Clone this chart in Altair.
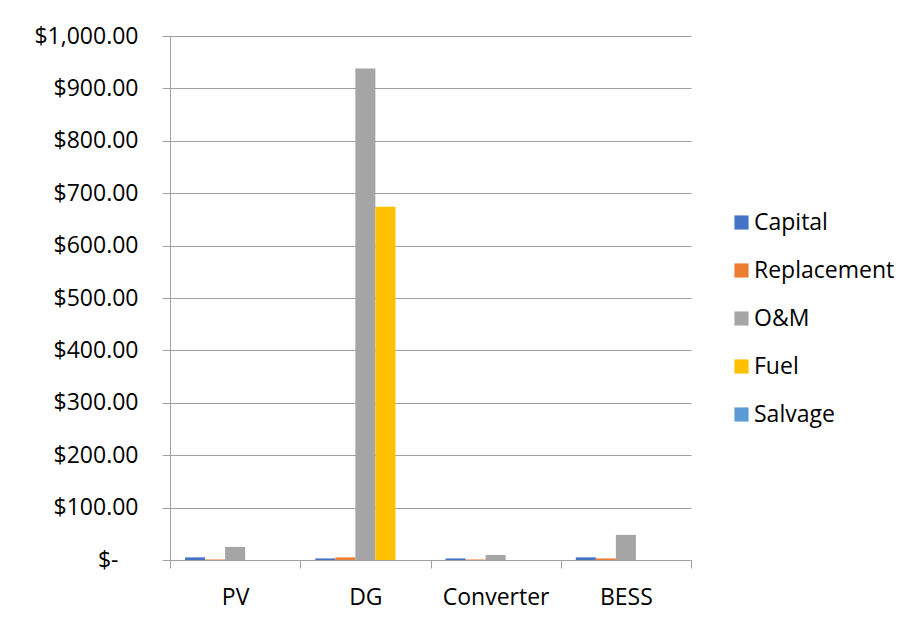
import altair as alt
import pandas as pd

categories = ["PV", "DG", "Converter", "BESS"]
series = ["Capital", "Replacement", "O&M", "Fuel", "Salvage"]
capital = [5, 3, 3, 5]
replacement = [1, 5, 1, 3]
om = [25, 938, 9.5, 48]
fuel = [0, 674, 0, 0]
salvage = [0, 0, 0, 0]
colors = ["#4472C4", "#ED7D31", "#A5A5A5", "#FFC000", "#5B9BD5"]
y_ticks = [0, 100, 200, 300, 400, 500, 600, 700, 800, 900, 1000]

rows = []
for name, vals in zip(series, [capital, replacement, om, fuel, salvage]):
    for c, v in zip(categories, vals):
        rows.append({"Component": c, "Cost": name, "Value": v})
df = pd.DataFrame(rows)

FONT = "Open Sans"
GRID = "#a0a0a0"

bars = alt.Chart(df).mark_bar().encode(
    x=alt.X(
        "Component:N",
        sort=categories,
        scale=alt.Scale(paddingInner=0, paddingOuter=0),
        axis=alt.Axis(
            title=None, labelAngle=0, tickBand="extent", tickSize=8,
            labelPadding=18, labelFontSize=23, labelFont=FONT, labelColor="#000000",
            domainColor=GRID, tickColor=GRID, grid=False,
        ),
    ),
    xOffset=alt.XOffset(
        "Cost:N", sort=series,
        scale=alt.Scale(domain=series, paddingInner=0, paddingOuter=0.75),
    ),
    y=alt.Y(
        "Value:Q",
        scale=alt.Scale(domain=[0, 1000], nice=False),
        axis=alt.Axis(
            title=None, values=y_ticks, tickSize=8,
            labelPadding={"condition": {"test": "datum.value == 0", "value": 44}, "value": 24},
            labelFontSize=23, labelFont=FONT, labelColor="#000000",
            labelExpr="datum.value == 0 ? '$-' : format(datum.value, '$,.2f')",
            domainColor=GRID, tickColor=GRID, gridColor=GRID, grid=True,
        ),
    ),
    color=alt.Color(
        "Cost:N", sort=series,
        scale=alt.Scale(domain=series, range=colors),
        legend=alt.Legend(
            title=None, orient="none", legendX=560, legendY=175,
            symbolType="square", symbolSize=200, symbolStrokeWidth=0,
            labelFontSize=23, labelFont=FONT, labelColor="#000000",
            rowPadding=24, labelOffset=1, padding=0,
        ),
    ),
).properties(
    width=521,
    height=524,
    autosize=alt.AutoSizeParams(type="none"),
    padding={"left": 162, "top": 28, "right": 211, "bottom": 54},
).configure_view(stroke=None)

bars.save("out.html", embed_options={"renderer": "svg", "actions": False})
